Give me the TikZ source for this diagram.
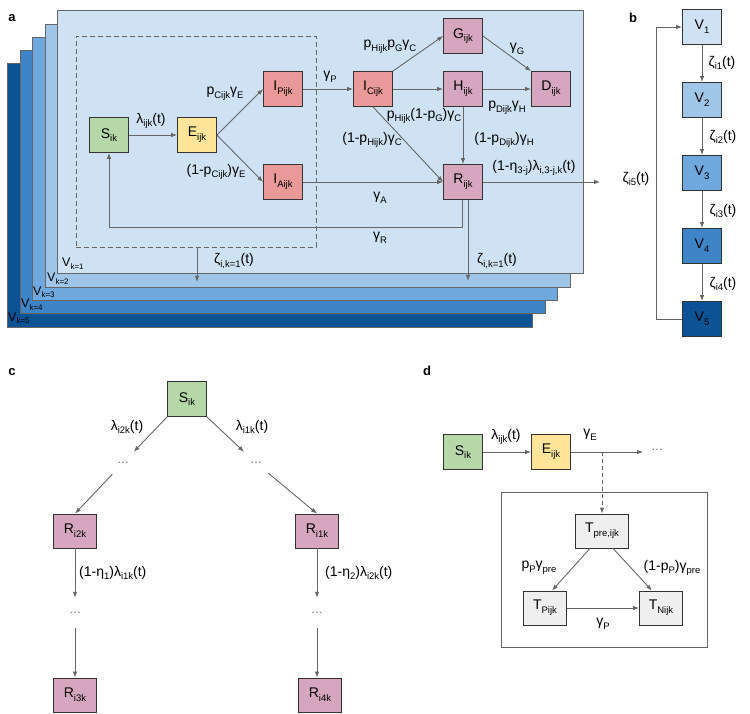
\documentclass[tikz,border=0pt]{standalone}
\usepackage{fontspec}
\setmainfont{Liberation Sans}
\usetikzlibrary{arrows.meta}
\definecolor{cS}{HTML}{B6D7A8}
\definecolor{cE}{HTML}{FFE599}
\definecolor{cI}{HTML}{EA9999}
\definecolor{cR}{HTML}{D5A6BD}
\definecolor{cT}{HTML}{EFEFEF}
\definecolor{vA}{HTML}{CFE2F3}
\definecolor{vB}{HTML}{9FC5E8}
\definecolor{vC}{HTML}{6FA8DC}
\definecolor{vD}{HTML}{3D85C6}
\definecolor{vE}{HTML}{0B5394}
\definecolor{boxline}{HTML}{333333}
\definecolor{arrgray}{HTML}{666666}
\newcommand\lo[1]{\raisebox{-0.5ex}{\fontsize{9.5}{9.5}\selectfont #1}}
\newcommand\los[1]{\raisebox{-0.45ex}{\fontsize{8}{8}\selectfont #1}}
\begin{document}
\begin{tikzpicture}[x=1pt,y=-1pt,
  box/.style={draw=boxline, line width=0.8pt, minimum width=39pt, minimum height=35pt, inner sep=0pt, font=\fontsize{14}{14}\selectfont},
  lab/.style={font=\fontsize{14}{14}\selectfont, inner sep=0pt},
  vlab/.style={font=\fontsize{12.5}{12.5}\selectfont, inner sep=0pt, anchor=base west},
  plab/.style={font=\fontsize{13}{13}\selectfont\bfseries, inner sep=0pt},
  arr/.style={draw=arrgray, line width=0.9pt, -{Latex[length=6pt,width=4.5pt]}},
  layer/.style={draw=arrgray, line width=0.9pt},
  dots/.style={font=\fontsize{12}{12}\selectfont, text=arrgray, inner sep=0pt, minimum width=24pt, minimum height=22pt},
  vdots/.style={font=\fontsize{12}{12}\selectfont, text=arrgray, inner sep=0pt, minimum width=24pt, minimum height=30pt}
]
\useasboundingbox (0,0) rectangle (750,714);

% ---------------- panel a ----------------
\node[plab] (la) at (12,18) {a};
\draw[layer, fill=vE] (7,63) rectangle (532,327);
\draw[layer, fill=vD] (20,50) rectangle (545,313);
\draw[layer, fill=vC] (32,37) rectangle (557,300);
\draw[layer, fill=vB] (45,24) rectangle (570,287);
\draw[layer, fill=vA] (57,10) rectangle (583,273);
\node[vlab] (v5) at (8,321) {V\los{k=5}};
\node[vlab] (v4) at (21,308) {V\los{k=4}};
\node[vlab] (v3) at (33,295) {V\los{k=3}};
\node[vlab] (v2) at (47,282) {V\los{k=2}};
\node[vlab] (v1) at (62,267) {V\los{k=1}};

\node[draw=arrgray, line width=0.9pt, dash pattern=on 5pt off 3pt, minimum width=240pt, minimum height=211pt, inner sep=0pt] (dbox) at (196,141.5) {};

\node[box, fill=cS] (S) at (109,135) {S\lo{ik}};
\node[box, fill=cE] (E) at (197,135) {E\lo{ijk}};
\node[box, fill=cI] (IP) at (283,89) {I\lo{Pijk}};
\node[box, fill=cI] (IA) at (283,182) {I\lo{Aijk}};
\node[box, fill=cI] (IC) at (373,89) {I\lo{Cijk}};
\node[box, fill=cR] (G) at (463,36) {G\lo{ijk}};
\node[box, fill=cR] (H) at (463,89) {H\lo{ijk}};
\node[box, fill=cR] (D) at (551,89) {D\lo{ijk}};
\node[box, fill=cR] (R) at (463,182) {R\lo{ijk}};

\coordinate (rs) at (109,227);
\coordinate (rout) at (600,182);
\coordinate (zR) at (468,281);
\coordinate (zD) at (197,282);

\draw[arr] (S) -- (E);
\draw[arr] (E.east) -- (IP.west);
\draw[arr] (E.east) -- (IA.west);
\draw[arr] (IP) -- (IC);
\draw[arr] (IA) -- (R);
\draw[arr] (IC.north east) -- (G.west);
\draw[arr] (IC) -- (H);
\draw[arr] (IC.south) -- (R.west);
\draw[arr] (G.east) -- (D.north west);
\draw[arr] (H) -- (D);
\draw[arr] (H) -- (R);
\draw[arr] (R.east) -- (rout);
\draw[arr] ([xshift=-1pt]R.south) |- (rs) -- (S.south);
\draw[arr] (R.south -| zR) -- (zR);
\draw[arr] (dbox.south -| zD) -- (zD);

\node[lab] (l1) at (151,121) {λ\lo{ijk}(t)};
\node[lab] (l2) at (225,94) {p\lo{Cijk}γ\lo{E}};
\node[lab] (l3) at (216,172) {(1-p\lo{Cijk})γ\lo{E}};
\node[lab] (l4) at (330,77) {γ\lo{P}};
\node[lab] (l5) at (390,47) {p\lo{Hijk}p\lo{G}γ\lo{C}};
\node[lab] (l6) at (424,116) {p\lo{Hijk}(1-p\lo{G})γ\lo{C}};
\node[lab] (l7) at (372,140) {(1-p\lo{Hijk})γ\lo{C}};
\node[lab] (l8) at (507,108) {p\lo{Dijk}γ\lo{H}};
\node[lab] (l9) at (517,49) {γ\lo{G}};
\node[lab] (l10) at (504,140) {(1-p\lo{Dijk})γ\lo{H}};
\node[lab] (l11) at (534,168) {(1-η\lo{3-j})λ\lo{i,3-j,k}(t)};
\node[lab] (l12) at (380,198) {γ\lo{A}};
\node[lab] (l13) at (380,238) {γ\lo{R}};
\node[lab] (l14) at (497,261) {ζ\lo{i,k=1}(t)};
\node[lab] (l15) at (234,261) {ζ\lo{i,k=1}(t)};

% ---------------- panel b ----------------
\node[plab] (lb) at (633,18) {b};
\node[box, fill=vA] (V1) at (702,27) {V\lo{1}};
\node[box, fill=vB] (V2) at (702,100) {V\lo{2}};
\node[box, fill=vC] (V3) at (702,173) {V\lo{3}};
\node[box, fill=vD] (V4) at (702,246) {V\lo{4}};
\node[box, fill=vE] (V5) at (702,319) {V\lo{5}};
\coordinate (lp) at (656,27);
\draw[arr] (V1) -- (V2);
\draw[arr] (V2) -- (V3);
\draw[arr] (V3) -- (V4);
\draw[arr] (V4) -- (V5);
\draw[arr] (V5.west) -| (lp) -- (V1.west);
\node[lab] (z1) at (722,63) {ζ\lo{i1}(t)};
\node[lab] (z2) at (723,137) {ζ\lo{i2}(t)};
\node[lab] (z3) at (723,211) {ζ\lo{i3}(t)};
\node[lab] (z4) at (723,284) {ζ\lo{i4}(t)};
\node[lab] (z5) at (636,179) {ζ\lo{i5}(t)};

% ---------------- panel c ----------------
\node[plab] (lc) at (12,372) {c};
\node[box, fill=cS] (cS) at (187,399) {S\lo{ik}};
\node[box, fill=cR, minimum width=43pt, minimum height=34pt] (R2) at (75,531) {R\lo{i2k}};
\node[box, fill=cR, minimum width=43pt, minimum height=34pt] (R1) at (317,531) {R\lo{i1k}};
\node[box, fill=cR, minimum width=43pt, minimum height=34pt] (R3) at (75,695) {R\lo{i3k}};
\node[box, fill=cR, minimum width=43pt, minimum height=34pt] (R4) at (320,695) {R\lo{i4k}};
\node[dots] (dl) at (123,463) {…};
\node[dots] (dr) at (256,463) {…};
\node[vdots] (dl2) at (75,613) {…};
\node[vdots] (dr2) at (317,613) {…};
\draw[arr] (cS.south west) -- (dl);
\draw[arr] (cS.south east) -- (dr);
\draw[arr] (dl) -- (R2.north);
\draw[arr] (dr) -- (R1.north);
\draw[arr] (R2) -- (dl2);
\draw[arr] (dl2) -- (R3);
\draw[arr] (R1) -- (dr2);
\draw[arr] (dr2) -- (dr2 |- R4.north);
\node[lab] (c1) at (127,427) {λ\lo{i2k}(t)};
\node[lab] (c2) at (252,427) {λ\lo{i1k}(t)};
\node[lab, anchor=west] (c3) at (79,573) {(1-η\lo{1})λ\lo{i1k}(t)};
\node[lab, anchor=west] (c4) at (325,573) {(1-η\lo{2})λ\lo{i2k}(t)};

% ---------------- panel d ----------------
\node[plab] (ld) at (427,371) {d};
\draw[layer] (501,492) rectangle (707,647);
\node[box, fill=cS] (dS) at (463,452) {S\lo{ik}};
\node[box, fill=cE] (dE) at (551,452) {E\lo{ijk}};
\node[box, fill=cT, minimum width=53pt, minimum height=34pt] (Tpre) at (602,531) {T\lo{pre,ijk}};
\node[box, fill=cT, minimum width=43pt, minimum height=34pt] (TP) at (545,608) {T\lo{Pijk}};
\node[box, fill=cT, minimum width=43pt, minimum height=34pt] (TN) at (661,608) {T\lo{Nijk}};
\node[dots, minimum width=0pt, minimum height=0pt] (ddots) at (657,450) {…};
\coordinate (dend) at (643,452);
\coordinate (dsplit) at (602,452);
\draw[arr] (dS) -- (dE);
\draw[arr] (dE.east) -- (dend);
\draw[arr, dash pattern=on 4pt off 3pt] (dsplit) -- (Tpre.north);
\draw[arr] ([xshift=-12pt]Tpre.south) -- ([xshift=7pt]TP.north);
\draw[arr] ([xshift=11pt]Tpre.south) -- ([xshift=-9pt]TN.north);
\draw[arr] (TP) -- (TN);
\node[lab] (d1) at (506,437) {λ\lo{ijk}(t)};
\node[lab] (d2) at (590,435) {γ\lo{E}};
\node[lab] (d3) at (539,568) {p\lo{P}γ\lo{pre}};
\node[lab] (d4) at (672,568) {(1-p\lo{P})γ\lo{pre}};
\node[lab] (d5) at (603,624) {γ\lo{P}};
\end{tikzpicture}
\end{document}
